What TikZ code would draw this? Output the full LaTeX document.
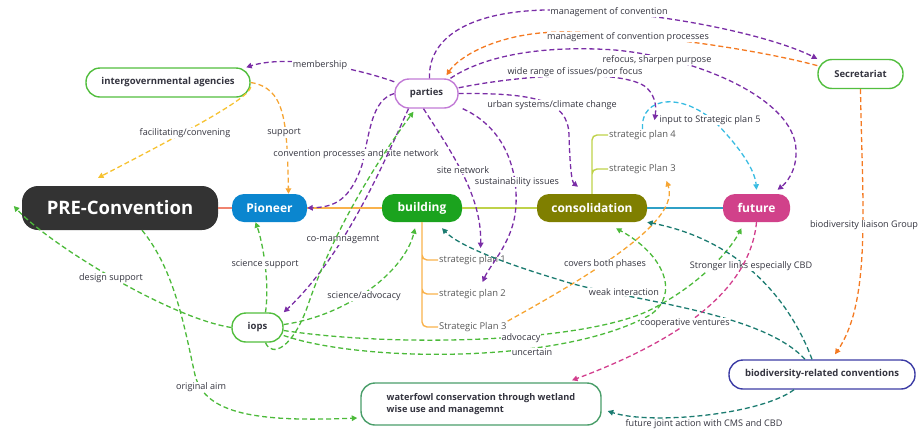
\documentclass[tikz,border=0pt]{standalone}
\usepackage{fontspec}
\setmainfont{Open Sans}
\usepackage{xcolor}
\usetikzlibrary{
  arrows.meta
}
\definecolor{preC}{HTML}{333333}
\definecolor{pioC}{HTML}{0B86CF}
\definecolor{bldC}{HTML}{1BA31E}
\definecolor{conC}{HTML}{7F7F00}
\definecolor{futC}{HTML}{D1418A}
\definecolor{lnPre}{HTML}{F0836F}
\definecolor{lnPio}{HTML}{F9B24C}
\definecolor{lnBld}{HTML}{BFD24A}
\definecolor{lnCon}{HTML}{2FA0C6}
\definecolor{grnB}{HTML}{52BE3E}
\definecolor{parB}{HTML}{C27BD6}
\definecolor{watB}{HTML}{4A9E6A}
\definecolor{bioB}{HTML}{3C3CA5}
\definecolor{relP}{HTML}{7A2DA6}
\definecolor{relG}{HTML}{4CBA3A}
\definecolor{relO}{HTML}{F6A533}
\definecolor{relR}{HTML}{F47A22}
\definecolor{relY}{HTML}{F6C230}
\definecolor{relT}{HTML}{1B7B70}
\definecolor{relC}{HTML}{39BCE2}
\definecolor{relM}{HTML}{D23E8D}
\definecolor{txt}{HTML}{34343F}
\definecolor{planC}{HTML}{595959}

\begin{document}
\begin{tikzpicture}[
  x=1pt, y=1pt,
  phase/.style = {shape=rectangle, rounded corners=12pt, text=white,
    font=\bfseries\fontsize{12}{14}\selectfont, minimum height=28pt, inner sep=0pt},
  topic/.style = {shape=rectangle, rounded corners=14pt, draw, line width=1.4pt,
    fill=white, text=txt, font=\bfseries\fontsize{9.5}{12}\selectfont,
    minimum height=29pt, inner sep=0pt},
  plan/.style = {anchor=west, text=planC, font=\fontsize{9.4}{11}\selectfont, inner sep=1pt},
  rel/.style = {line width=1.3pt, dash pattern=on 5pt off 3pt,
    -{Triangle[length=5.5pt,width=5.5pt]}},
  lbl/.style = {fill=white, text=txt, font=\fontsize{9.1}{11}\selectfont, inner sep=0.6pt}]
  \tikzstyle{trunk}=[line width=1.8pt]
  \tikzstyle{branch}=[line width=1.4pt, rounded corners=5pt]
  \useasboundingbox (0,0) rectangle (923,-429);

  \node[phase, fill=preC, minimum width=196pt, minimum height=44pt, rounded corners=16pt,
    font=\bfseries\fontsize{18.5}{22}\selectfont] (pre) at (120,-208) {PRE-Convention};
  \node[phase, fill=pioC, minimum width=75pt] (pioneer) at (269.5,-208) {Pioneer};
  \node[phase, fill=bldC, minimum width=80pt] (building) at (422,-208) {building};
  \node[phase, fill=conC, minimum width=110pt] (consolidation) at (592,-208) {consolidation};
  \node[phase, fill=futC, minimum width=67pt] (future) at (756.5,-208) {future};

  \node[topic, draw=grnB, minimum width=164pt] (agencies) at (168,-82.5) {intergovernmental agencies};
  \node[topic, draw=parB, minimum width=63pt] (parties) at (426.5,-93.5) {parties};
  \node[topic, draw=grnB, minimum width=85pt] (secretariat) at (860.5,-74) {Secretariat};
  \node[topic, draw=grnB, minimum width=51pt] (iops) at (257.5,-327.5) {iops};
  \node[topic, draw=watB, minimum width=240pt, minimum height=42pt, align=left,
    font=\bfseries\fontsize{9.2}{12}\selectfont]
    (waterfowl) at (481,-404) {waterfowl conservation through wetland\\wise use and managemnt};
  \node[topic, draw=bioB, minimum width=186pt] (bioconv) at (822,-374.5) {biodiversity-related conventions};

  \node[plan] (plan1) at (438,-260) {strategic plan 1};
  \node[plan] (plan2) at (438,-294) {strategic plan 2};
  \node[plan] (plan3b) at (438,-327) {Strategic Plan 3};
  \node[plan] (plan4) at (608,-135) {strategic plan 4};
  \node[plan] (plan3c) at (608,-169) {strategic Plan 3};

  \draw[trunk, lnPre] (pre) -- (pioneer);
  \draw[trunk, lnPio] (pioneer) -- (building);
  \draw[trunk, lnBld] (building) -- (consolidation);
  \draw[trunk, lnCon] (consolidation) -- (future);
  \draw[branch, lnPio] (building.south) |- (plan1.west) (building.south) |- (plan2.west)
    (building.south) |- (plan3b.west);
  \draw[branch, lnBld] (consolidation.north) |- (plan4.west) (consolidation.north) |- (plan3c.west);

  \draw[rel, relP] (parties.160) .. controls (350,-66) and (285,-55) .. (agencies.11)
    node[lbl, at={(320,-65)}] {membership};
  \draw[rel, relY] (agencies.-3) .. controls (250,-97) and (200,-125) .. ([xshift=-22pt,yshift=8pt]pre.north)
    node[lbl, at={(185,-133)}] {facilitating/convening};
  \draw[rel, relO] (agencies.east) .. controls (285,-88) and (287,-120) .. ([xshift=19pt]pioneer.north)
    node[lbl, at={(284,-133)}] {support};
  \draw[rel, relP] (parties.west) .. controls (372,-100) and (370,-130) .. (362,-165)
    .. controls (350,-200) and (335,-207) .. (pioneer.east)
    node[lbl, at={(356,-154)}] {convention processes and site network};
  \draw[rel, relP] (parties.east) .. controls (535,-93) and (568,-100) .. (569,-135)
    .. controls (570,-170) and (572,-182) .. ([xshift=-14pt,yshift=7pt]consolidation.north)
    node[lbl, at={(552,-105)}] {urban systems/climate change};
  \draw[rel, relP] ([xshift=-3pt]parties.south) .. controls (450,-150) and (482,-195) .. ([xshift=8pt,yshift=6pt]plan1.north)
    node[lbl, at={(463,-170)}] {site network};
  \draw[rel, relP] ([xshift=4pt]parties.south east) .. controls (510,-130) and (520,-180) .. (515,-215)
    .. controls (510,-245) and (490,-265) .. ([xshift=10pt,yshift=6pt]plan2.north)
    node[lbl, at={(517,-182)}] {sustainability issues};
  \draw[rel, relP] (parties.10) .. controls (520,-75) and (625,-68) .. (647,-88)
    .. controls (657,-98) and (656,-110) .. ([xshift=12pt,yshift=9pt]plan4.north)
    node[lbl, at={(575,-72)}] {wide range of issues/poor focus};
  \draw[rel, relP] ([xshift=24pt]parties.north) .. controls (485,-55) and (545,-45) .. (615,-50)
    .. controls (700,-58) and (795,-100) .. (796,-150)
    .. controls (797,-172) and (785,-184) .. ([xshift=21pt,yshift=4pt]future.north)
    node[lbl, at={(657,-60)}] {refocus, sharpen purpose};
  \draw[rel, relP] ([xshift=3pt]parties.north) .. controls (428,-40) and (465,-12) .. (545,-10)
    .. controls (650,-8) and (770,-35) .. (secretariat.north west)
    node[lbl, at={(609,-12)}] {management of convention};
  \draw[rel, relR] (secretariat.169) .. controls (740,-45) and (600,-28) .. (540,-33)
    .. controls (490,-38) and (458,-58) .. ([xshift=20pt,yshift=3pt]parties.north)
    node[lbl, at={(628,-37)}] {management of convention processes};
  \draw[rel, relR] (secretariat.south) .. controls (862,-200) and (872,-300) .. ([xshift=13pt,yshift=5pt]bioconv.north)
    node[lbl, at={(864,-225)}] {biodiversity liaison Group};
  \draw[rel, relP] ([xshift=-18pt]parties.south) .. controls (385,-160) and (345,-255) .. (iops.north east)
    node[lbl, at={(343,-240)}] {co-mamnagemnt};
  \draw[rel, relG] ([xshift=8pt]iops.south) .. controls (272,-358) and (293,-348) .. (308,-305)
    .. controls (335,-225) and (385,-150) .. ([xshift=-13pt,yshift=-3pt]parties.south);
  \draw[rel, relG] ([xshift=8pt]iops.north) .. controls (270,-280) and (262,-240) .. ([xshift=-14pt]pioneer.south)
    node[lbl, at={(265,-264)}] {science support};
  \draw[rel, relG] (iops.west) .. controls (170,-318) and (50,-245) .. ([xshift=-8pt,yshift=2pt]pre.west)
    node[lbl, at={(111,-278)}] {design support};
  \draw[rel, relG] ([yshift=3pt]iops.east) .. controls (350,-315) and (405,-270) .. ([xshift=-7pt,yshift=-6pt]building.south)
    node[lbl, at={(364,-296)}] {science/advocacy};
  \draw[rel, relG] ([yshift=-3pt]iops.east) .. controls (400,-348) and (585,-342) .. (650,-310)
    .. controls (700,-285) and (730,-250) .. ([xshift=-15pt,yshift=-6pt]future.south)
    node[lbl, at={(521,-338)}] {advocacy};
  \draw[rel, relG] ([yshift=-8pt]iops.east) .. controls (360,-362) and (560,-365) .. (650,-315)
    .. controls (680,-295) and (665,-255) .. ([xshift=24pt,yshift=-6pt]consolidation.south)
    node[lbl, at={(532,-352)}] {uncertain};
  \draw[rel, relG] ([xshift=22pt]pre.south) .. controls (175,-270) and (185,-330) .. (195,-375)
    .. controls (205,-415) and (260,-422) .. ([xshift=-3pt,yshift=-14pt]waterfowl.west)
    node[lbl, at={(201,-387)}] {original aim};
  \draw[rel, relO] (plan3b.north east) .. controls (600,-270) and (680,-220) .. ([xshift=24pt,yshift=-6pt]plan3c.south)
    node[lbl, at={(605,-264)}] {covers both phases};
  \draw[rel, relT] ([xshift=-17pt]bioconv.north) .. controls (760,-310) and (620,-300) .. (560,-280)
    .. controls (500,-262) and (458,-245) .. ([xshift=20pt,yshift=-6pt]building.south)
    node[lbl, at={(624,-292)}] {weak interaction};
  \draw[rel, relT] ([xshift=-10pt]bioconv.north) .. controls (790,-300) and (740,-240) .. (consolidation.south east)
    node[lbl, at={(751,-266)}] {Stronger links especially CBD};
  \draw[rel, relT] ([xshift=-28pt]bioconv.south) .. controls (760,-415) and (650,-425) .. ([xshift=6pt,yshift=-7pt]waterfowl.east)
    node[lbl, at={(704,-424)}] {future joint action with CMS and CBD};
  \draw[rel, relM] (future.south) .. controls (750,-290) and (680,-340) .. ([xshift=91pt,yshift=2pt]waterfowl.north)
    node[lbl, at={(685,-323)}] {cooperative ventures};
  \draw[rel, relC] (plan4.north) .. controls (640,-95) and (685,-92) .. (718,-125)
    .. controls (740,-148) and (755,-170) .. ([yshift=4pt]future.north)
    node[lbl, at={(710,-120)}] {input to Strategic plan 5};
\end{tikzpicture}
\end{document}
